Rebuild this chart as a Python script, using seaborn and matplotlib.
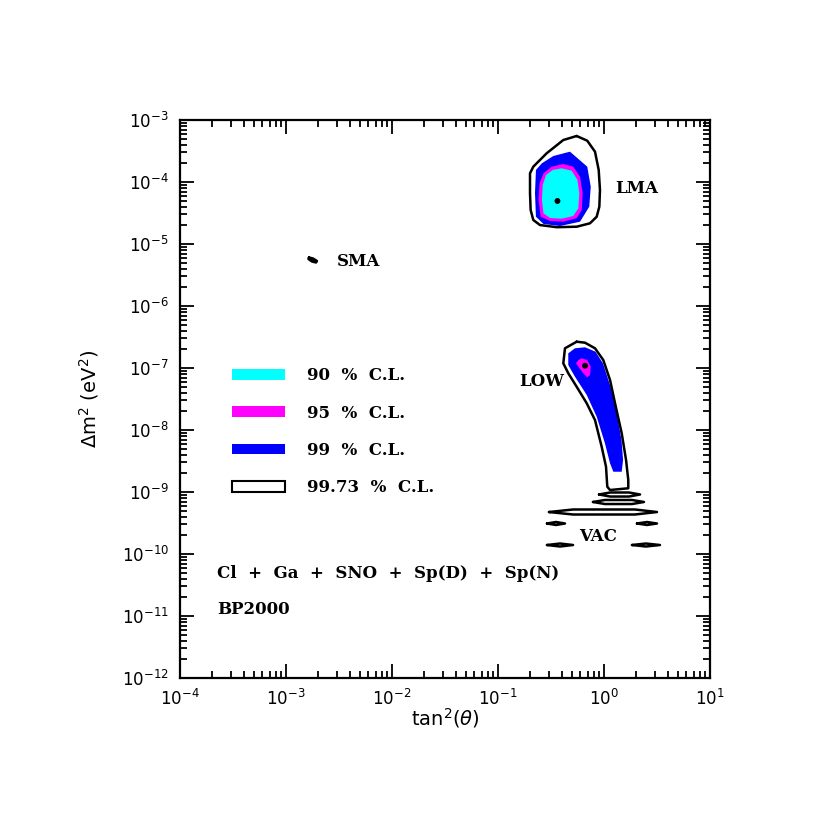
import matplotlib
matplotlib.use("Agg")
import matplotlib.pyplot as plt
from matplotlib.patches import Patch
from matplotlib.ticker import LogLocator, NullFormatter
import numpy as np
import pandas as pd
import seaborn as sns

# contour outlines, in log10(tan^2 theta) and log10(dm^2 / eV^2)
lma_9973_x = [-0.258, -0.158, -0.085, -0.050, -0.038, -0.044, -0.069, -0.132, -0.258,
              -0.446, -0.604, -0.667, -0.692, -0.698, -0.698, -0.667, -0.541, -0.384]
lma_9973_y = [-3.258, -3.334, -3.511, -3.806, -4.129, -4.398, -4.560, -4.666, -4.721,
              -4.729, -4.694, -4.613, -4.452, -4.182, -3.860, -3.753, -3.537, -3.323]
lma_99_x = [-0.321, -0.158, -0.125, -0.139, -0.226, -0.415, -0.571, -0.642, -0.651,
            -0.642, -0.586, -0.478]
lma_99_y = [-3.511, -3.753, -4.076, -4.398, -4.640, -4.710, -4.677, -4.560, -4.182,
            -3.806, -3.698, -3.581]
lma_95_x = [-0.384, -0.290, -0.226, -0.201, -0.210, -0.258, -0.384, -0.509, -0.597,
            -0.618, -0.608, -0.571, -0.493]
lma_95_y = [-3.710, -3.753, -3.915, -4.182, -4.452, -4.585, -4.640, -4.629, -4.560,
            -4.290, -4.021, -3.860, -3.753]
lma_90_x = [-0.399, -0.305, -0.250, -0.233, -0.242, -0.290, -0.399, -0.509, -0.571,
            -0.586, -0.578, -0.547, -0.484]
lma_90_y = [-3.779, -3.818, -3.968, -4.182, -4.424, -4.548, -4.592, -4.581, -4.505,
            -4.290, -4.048, -3.887, -3.806]

low_9973_x = [-0.258, -0.368, -0.384, -0.337, -0.258, -0.163, -0.085, -0.022, 0.019,
              0.031, 0.057, 0.229, 0.229, 0.208, 0.167, 0.104, 0.057, -0.007, -0.085, -0.179]
low_9973_y = [-6.576, -6.682, -6.924, -7.085, -7.302, -7.569, -7.839, -8.269, -8.592,
              -8.915, -8.968, -8.940, -8.806, -8.484, -8.053, -7.569, -7.194, -6.871, -6.682, -6.592]
low_99_x = [-0.274, -0.337, -0.337, -0.274, -0.163, -0.069, 0.009, 0.057, 0.088, 0.167,
            0.180, 0.165, 0.120, 0.062, -0.010, -0.080, -0.179]
low_99_y = [-6.682, -6.763, -6.952, -7.140, -7.435, -7.785, -8.215, -8.537, -8.673, -8.673,
            -8.484, -8.161, -7.731, -7.302, -6.924, -6.737, -6.666]
low_95_x = [-0.242, -0.210, -0.158, -0.125, -0.132, -0.158, -0.196, -0.242, -0.264]
low_95_y = [-6.871, -6.844, -6.871, -6.979, -7.113, -7.150, -7.085, -6.979, -6.924]

sma_x = [-2.783, -2.745, -2.708, -2.717, -2.755, -2.788]
sma_y = [-5.218, -5.234, -5.274, -5.298, -5.282, -5.242]

vac1_x = [-0.047, 0.057, 0.236, 0.340, 0.236, 0.057]
vac1_y = [-9.040, -9.008, -9.008, -9.040, -9.073, -9.073]
vac2_x = [-0.104, 0.009, 0.264, 0.377, 0.264, 0.009]
vac2_y = [-9.161, -9.129, -9.129, -9.161, -9.194, -9.194]
vac3_x = [-0.519, -0.292, 0.292, 0.500, 0.292, -0.292]
vac3_y = [-9.323, -9.282, -9.282, -9.323, -9.363, -9.363]
vac4_x = [-0.538, -0.453, -0.368, -0.453]
vac4_y = [-9.508, -9.484, -9.508, -9.532]
vac5_x = [0.311, 0.406, 0.500, 0.406]
vac5_y = [-9.508, -9.484, -9.508, -9.532]
vac6_x = [-0.538, -0.415, -0.292, -0.415]
vac6_y = [-9.855, -9.831, -9.855, -9.879]
vac7_x = [0.264, 0.396, 0.528, 0.396]
vac7_y = [-9.855, -9.831, -9.855, -9.879]

# best fit points
best_x = [-0.439, -0.179]
best_y = [-4.306, -6.963]

# region labels
region_names = ["LMA", "SMA", "LOW", "VAC"]
region_x = [0.104, -2.519, -0.802, -0.236]
region_y = [-4.097, -5.290, -7.210, -9.710]

cl_labels = ["90 % C.L.", "95 % C.L.", "99 % C.L.", "99.73 % C.L."]
cl_colors = ["#00ffff", "#ff00ff", "#0000ff", "white"]

sns.set_style("ticks")
plt.rcParams["font.family"] = ["DejaVu Sans"]
plt.rcParams["mathtext.fontset"] = "dejavusans"
plt.rcParams["text.color"] = "black"
plt.rcParams["axes.labelcolor"] = "black"
plt.rcParams["xtick.color"] = "black"
plt.rcParams["ytick.color"] = "black"

fig = plt.figure(figsize=(8.3, 8.3), dpi=100)
ax = fig.add_axes([180 / 830, 152 / 830, 530 / 830, 558 / 830])
ax.set_xscale("log")
ax.set_yscale("log")
ax.set_xlim(1e-4, 1e1)
ax.set_ylim(1e-12, 1e-3)


def closed(xs, ys):
    xs = list(xs) + [xs[0]]
    ys = list(ys) + [ys[0]]
    return 10 ** np.array(xs), 10 ** np.array(ys)


# filled confidence regions
for xs, ys, c in [
    (lma_99_x, lma_99_y, cl_colors[2]),
    (lma_95_x, lma_95_y, cl_colors[1]),
    (lma_90_x, lma_90_y, cl_colors[0]),
    (low_99_x, low_99_y, cl_colors[2]),
    (low_95_x, low_95_y, cl_colors[1]),
    (sma_x, sma_y, "black"),
]:
    px, py = closed(xs, ys)
    ax.fill(px, py, color=c, lw=0, zorder=2)

# 99.73 % outlines
outlines = [
    ("lma", lma_9973_x, lma_9973_y),
    ("low", low_9973_x, low_9973_y),
    ("sma", sma_x, sma_y),
    ("vac1", vac1_x, vac1_y),
    ("vac2", vac2_x, vac2_y),
    ("vac3", vac3_x, vac3_y),
    ("vac4", vac4_x, vac4_y),
    ("vac5", vac5_x, vac5_y),
    ("vac6", vac6_x, vac6_y),
    ("vac7", vac7_x, vac7_y),
]
rows = []
for name, xs, ys in outlines:
    px, py = closed(xs, ys)
    for i, (a, b) in enumerate(zip(px, py)):
        rows.append([name, i, a, b])
df_out = pd.DataFrame(rows, columns=["contour", "order", "tan2", "dm2"])
sns.lineplot(data=df_out, x="tan2", y="dm2", units="contour", estimator=None,
             sort=False, color="black", lw=1.8, ax=ax, zorder=3)

sns.scatterplot(x=10 ** np.array(best_x), y=10 ** np.array(best_y), color="black",
                s=18, edgecolor="none", ax=ax, zorder=4)

serif = {"family": "DejaVu Serif", "size": 12, "weight": "bold"}

for name, lx, ly in zip(region_names, region_x, region_y):
    ax.text(10 ** lx, 10 ** ly, name, fontdict=serif, ha="left", va="center")

ax.text(10 ** -3.651, 10 ** -10.32, "Cl  +  Ga  +  SNO  +  Sp(D)  +  Sp(N)",
        fontdict=serif, ha="left", va="center")
ax.text(10 ** -3.651, 10 ** -10.90, "BP2000", fontdict=serif, ha="left", va="center")

handles = [Patch(facecolor=c, edgecolor="none" if c != "white" else "black", lw=1.5)
           for c in cl_colors]
leg = ax.legend(handles, [l.replace(" ", "  ") for l in cl_labels], loc="upper left",
                bbox_to_anchor=(0.098, 0.557), frameon=False, handlelength=3.2,
                handleheight=0.6, handletextpad=1.3, labelspacing=1.22, borderpad=0,
                borderaxespad=0, prop=serif)

ax.xaxis.set_major_locator(LogLocator(base=10, numticks=20))
ax.yaxis.set_major_locator(LogLocator(base=10, numticks=20))
ax.xaxis.set_minor_locator(LogLocator(base=10, subs=np.arange(2, 10), numticks=20))
ax.yaxis.set_minor_locator(LogLocator(base=10, subs=np.arange(2, 10), numticks=20))
ax.xaxis.set_minor_formatter(NullFormatter())
ax.yaxis.set_minor_formatter(NullFormatter())
ax.tick_params(which="both", direction="in", top=True, right=True, width=1.3,
               labelsize=12, color="black")
ax.tick_params(which="major", length=10, pad=8)
ax.tick_params(which="minor", length=5)
for s in ax.spines.values():
    s.set_linewidth(1.6)
    s.set_color("black")

ax.set_xlabel(r"tan$^2$($\theta$)", fontsize=14, labelpad=-2)
ax.set_ylabel(r"$\Delta$m$^2$ (eV$^2$)", fontsize=14, labelpad=15)

fig.savefig("out.png", dpi=100, facecolor="white")
